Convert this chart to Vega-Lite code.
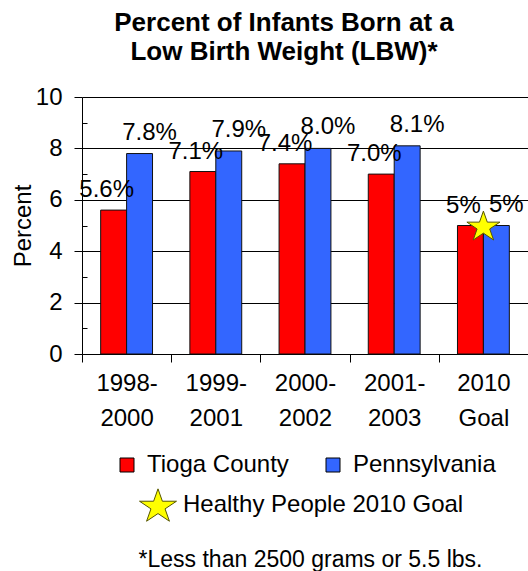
{
  "$schema": "https://vega.github.io/schema/vega-lite/v6.json",
  "width": 446,
  "height": 257,
  "autosize": {"type": "none"},
  "padding": {"left": 82, "top": 97, "right": 0, "bottom": 217},
  "background": "white",
  "title": {
    "text": ["Percent of Infants Born at a", "Low Birth Weight (LBW)*"],
    "fontSize": 26,
    "fontWeight": "bold",
    "color": "#000",
    "anchor": "middle",
    "frame": "group",
    "dx": -21,
    "lineHeight": 29.5,
    "offset": 20
  },
  "datasets": {
    "bars": [
      {"period": "1998- 2000", "series": "Tioga County", "value": 5.6, "label": "5.6%"},
      {"period": "1998- 2000", "series": "Pennsylvania", "value": 7.8, "label": "7.8%"},
      {"period": "1999- 2001", "series": "Tioga County", "value": 7.1, "label": "7.1%"},
      {"period": "1999- 2001", "series": "Pennsylvania", "value": 7.9, "label": "7.9%"},
      {"period": "2000- 2002", "series": "Tioga County", "value": 7.4, "label": "7.4%"},
      {"period": "2000- 2002", "series": "Pennsylvania", "value": 8.0, "label": "8.0%"},
      {"period": "2001- 2003", "series": "Tioga County", "value": 7.0, "label": "7.0%"},
      {"period": "2001- 2003", "series": "Pennsylvania", "value": 8.1, "label": "8.1%"},
      {"period": "2010 Goal", "series": "Tioga County", "value": 5, "label": "5%"},
      {"period": "2010 Goal", "series": "Pennsylvania", "value": 5, "label": "5%"}
    ],
    "goal": [
      {"period": "2010 Goal", "goal": "Healthy People 2010 Goal", "value": 5}
    ]
  },
  "resolve": {"axis": {"y": "independent"}},
  "layer": [
    {
      "data": {"name": "bars"},
      "mark": {"type": "bar", "stroke": "#111", "strokeWidth": 1},
      "encoding": {
        "x": {
          "field": "period", "type": "nominal", "sort": null,
          "scale": {"paddingInner": 0, "paddingOuter": 0},
          "axis": {
            "labelExpr": "split(datum.label, ' ')",
            "labelAngle": 0,
            "labelFontSize": 24,
            "labelLineHeight": 35,
            "labelColor": "#000",
            "labelPadding": 9,
            "tickBand": "extent",
            "tickSize": 8,
            "tickColor": "#000",
            "domainColor": "#000",
            "title": "*Less than 2500 grams or 5.5 lbs.",
            "titleFontSize": 23,
            "titleFontWeight": "normal",
            "titleColor": "#000",
            "titlePadding": 118,
            "titleX": 228
          }
        },
        "xOffset": {
          "field": "series", "type": "nominal",
          "scale": {"domain": ["Tioga County", "Pennsylvania"], "paddingInner": 0, "paddingOuter": 0.72}
        },
        "y": {
          "field": "value", "type": "quantitative",
          "scale": {"domain": [0, 10], "nice": false},
          "axis": {
            "values": [0, 2, 4, 6, 8, 10],
            "grid": true,
            "gridColor": "#000",
            "gridWidth": 1,
            "domainColor": "#000",
            "tickColor": "#000",
            "tickSize": 8,
            "labelFontSize": 24,
            "labelColor": "#000",
            "labelPadding": 12,
            "title": "Percent",
            "titleFontSize": 24,
            "titleFontWeight": "normal",
            "titleColor": "#000",
            "titlePadding": 0
          }
        },
        "color": {
          "field": "series", "type": "nominal",
          "scale": {"domain": ["Tioga County", "Pennsylvania"], "range": ["#FF0000", "#3366FF"]},
          "legend": {
            "title": null,
            "orient": "none",
            "legendX": 33,
            "legendY": 356,
            "direction": "horizontal",
            "symbolType": "square",
            "symbolSize": 196,
            "symbolStrokeColor": "#000",
            "symbolStrokeWidth": 1,
            "symbolOpacity": 1,
            "labelFontSize": 24,
            "labelColor": "#000",
            "labelOffset": 8,
            "labelLimit": 400,
            "columnPadding": 32,
            "padding": 0
          }
        }
      }
    },
    {
      "data": {"name": "bars"},
      "transform": [{"filter": "datum.series === 'Tioga County'"}],
      "mark": {"type": "text", "fontSize": 24, "color": "#000", "baseline": "middle", "dx": -7, "dy": -20},
      "encoding": {
        "x": {"field": "period", "type": "nominal", "sort": null},
        "xOffset": {"field": "series", "type": "nominal"},
        "y": {"field": "value", "type": "quantitative", "axis": null},
        "text": {"field": "label"}
      }
    },
    {
      "data": {"name": "bars"},
      "transform": [{"filter": "datum.series === 'Pennsylvania'"}],
      "mark": {"type": "text", "fontSize": 24, "color": "#000", "baseline": "middle", "dx": 10, "dy": -21},
      "encoding": {
        "x": {"field": "period", "type": "nominal", "sort": null},
        "xOffset": {"field": "series", "type": "nominal"},
        "y": {"field": "value", "type": "quantitative", "axis": null},
        "text": {"field": "label"}
      }
    },
    {
      "data": {"name": "goal"},
      "mark": {
        "type": "point",
        "shape": "M0,-0.83L0.225,-0.194L0.951,-0.194L0.363,0.199L0.588,0.834L0,0.441L-0.588,0.834L-0.363,0.199L-0.951,-0.194L-0.225,-0.194Z",
        "filled": true,
        "size": 1204,
        "stroke": "#555500",
        "strokeWidth": 1,
        "opacity": 1
      },
      "encoding": {
        "x": {"field": "period", "type": "nominal", "sort": null},
        "y": {
          "field": "value", "type": "quantitative",
          "axis": {
            "orient": "left",
            "values": [1, 3, 5, 7, 9],
            "labels": false,
            "domain": false,
            "grid": false,
            "ticks": true,
            "tickSize": -5,
            "tickColor": "#000",
            "title": null
          }
        },
        "fill": {
          "field": "goal", "type": "nominal",
          "scale": {"range": ["#FFFF00"]},
          "legend": {
            "title": null,
            "orient": "none",
            "legendX": 56,
            "legendY": 388,
            "symbolType": "M0,-0.83L0.225,-0.194L0.951,-0.194L0.363,0.199L0.588,0.834L0,0.441L-0.588,0.834L-0.363,0.199L-0.951,-0.194L-0.225,-0.194Z",
            "symbolSize": 1513,
            "symbolStrokeColor": "#555500",
            "symbolStrokeWidth": 1,
            "symbolOpacity": 1,
            "labelFontSize": 24,
            "labelColor": "#000",
            "labelOffset": 5,
            "labelLimit": 400,
            "padding": 0
          }
        }
      }
    }
  ],
  "config": {
    "font": "Liberation Sans",
    "view": {"stroke": null}
  }
}
